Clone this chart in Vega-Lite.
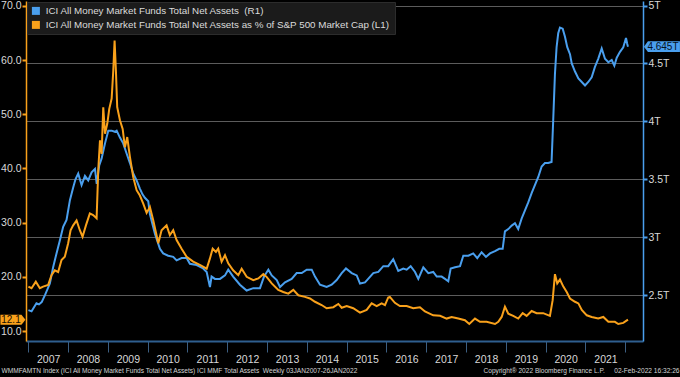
{
  "$schema": "https://vega.github.io/schema/vega-lite/v6.json",
  "autosize": {"type": "none"},
  "width": 617,
  "height": 340,
  "padding": {"left": 26, "top": 1, "right": 37, "bottom": 36},
  "background": "#000000",
  "config": {
    "view": {"stroke": null},
    "font": "Liberation Sans",
    "legend": {
      "orient": "top-left", "offset": 1, "padding": 4,
      "fillColor": "#1b1b1b", "strokeColor": "#2c2c2c",
      "labelColor": "#dcdcdc", "labelFontSize": 9.8, "labelFont": "Liberation Sans",
      "symbolType": "square", "symbolSize": 64, "symbolStrokeWidth": 0,
      "rowPadding": 3, "labelLimit": 600, "title": null, "labelOffset": 5
    }
  },
  "datasets": {
    "blue": [
      {"date":"2007-01-03","v":2.37},{"date":"2007-02-01","v":2.36},{"date":"2007-03-18","v":2.43},{"date":"2007-04-10","v":2.42},{"date":"2007-05-05","v":2.44},{"date":"2007-06-04","v":2.50},{"date":"2007-07-19","v":2.60},{"date":"2007-08-18","v":2.74},{"date":"2007-09-18","v":2.86},{"date":"2007-10-18","v":2.97},{"date":"2007-11-18","v":3.09},{"date":"2007-12-19","v":3.15},
      {"date":"2008-01-19","v":3.32},{"date":"2008-02-18","v":3.43},{"date":"2008-03-10","v":3.50},{"date":"2008-04-04","v":3.55},{"date":"2008-05-05","v":3.45},{"date":"2008-06-05","v":3.53},{"date":"2008-07-05","v":3.49},{"date":"2008-08-05","v":3.56},{"date":"2008-09-05","v":3.59},{"date":"2008-09-21","v":3.46},{"date":"2008-10-14","v":3.62},{"date":"2008-11-05","v":3.68},{"date":"2008-12-06","v":3.81},
      {"date":"2009-01-05","v":3.92},{"date":"2009-02-05","v":3.92},{"date":"2009-03-07","v":3.91},{"date":"2009-03-23","v":3.92},{"date":"2009-04-22","v":3.86},{"date":"2009-05-22","v":3.81},{"date":"2009-06-23","v":3.72},{"date":"2009-07-23","v":3.64},{"date":"2009-08-22","v":3.55},{"date":"2009-09-22","v":3.49},{"date":"2009-10-22","v":3.42},{"date":"2009-11-15","v":3.37},{"date":"2009-12-07","v":3.34},
      {"date":"2010-01-07","v":3.31},{"date":"2010-01-22","v":3.20},{"date":"2010-03-09","v":3.03},{"date":"2010-04-24","v":2.90},{"date":"2010-05-24","v":2.86},{"date":"2010-07-09","v":2.84},{"date":"2010-08-24","v":2.83},{"date":"2010-09-24","v":2.80},{"date":"2010-11-09","v":2.82},{"date":"2010-12-25","v":2.82},
      {"date":"2011-01-24","v":2.77},{"date":"2011-03-27","v":2.76},{"date":"2011-05-26","v":2.73},{"date":"2011-06-27","v":2.70},{"date":"2011-07-27","v":2.57},{"date":"2011-08-11","v":2.66},{"date":"2011-09-11","v":2.64},{"date":"2011-10-27","v":2.64},{"date":"2011-12-12","v":2.67},
      {"date":"2012-01-11","v":2.72},{"date":"2012-02-25","v":2.66},{"date":"2012-04-27","v":2.59},{"date":"2012-06-28","v":2.54},{"date":"2012-08-28","v":2.56},{"date":"2012-10-28","v":2.56},{"date":"2012-12-04","v":2.66},
      {"date":"2013-01-13","v":2.72},{"date":"2013-02-13","v":2.67},{"date":"2013-03-31","v":2.63},{"date":"2013-04-30","v":2.57},{"date":"2013-06-15","v":2.61},{"date":"2013-08-15","v":2.64},{"date":"2013-09-30","v":2.69},{"date":"2013-11-15","v":2.69},{"date":"2013-12-31","v":2.72},
      {"date":"2014-02-15","v":2.72},{"date":"2014-03-17","v":2.66},{"date":"2014-05-02","v":2.59},{"date":"2014-07-02","v":2.57},{"date":"2014-08-17","v":2.59},{"date":"2014-10-02","v":2.63},{"date":"2014-11-17","v":2.69},{"date":"2014-12-26","v":2.73},
      {"date":"2015-02-17","v":2.69},{"date":"2015-04-04","v":2.67},{"date":"2015-05-04","v":2.60},{"date":"2015-06-19","v":2.61},{"date":"2015-07-18","v":2.64},{"date":"2015-09-03","v":2.69},{"date":"2015-10-19","v":2.70},{"date":"2015-12-04","v":2.75},
      {"date":"2016-01-18","v":2.75},{"date":"2016-03-04","v":2.81},{"date":"2016-04-19","v":2.71},{"date":"2016-06-04","v":2.73},{"date":"2016-07-05","v":2.72},{"date":"2016-08-11","v":2.75},{"date":"2016-09-20","v":2.70},{"date":"2016-10-20","v":2.64},{"date":"2016-12-05","v":2.74},
      {"date":"2017-01-20","v":2.69},{"date":"2017-03-06","v":2.70},{"date":"2017-04-07","v":2.66},{"date":"2017-05-22","v":2.66},{"date":"2017-06-22","v":2.64},{"date":"2017-07-22","v":2.62},{"date":"2017-08-13","v":2.73},{"date":"2017-09-22","v":2.74},{"date":"2017-11-07","v":2.75},{"date":"2017-12-07","v":2.84},
      {"date":"2018-01-22","v":2.84},{"date":"2018-03-08","v":2.86},{"date":"2018-04-14","v":2.82},{"date":"2018-05-24","v":2.87},{"date":"2018-07-03","v":2.83},{"date":"2018-08-09","v":2.86},{"date":"2018-09-24","v":2.88},{"date":"2018-11-02","v":2.90},{"date":"2018-12-03","v":2.90},{"date":"2018-12-24","v":3.05},
      {"date":"2019-01-24","v":3.07},{"date":"2019-02-24","v":3.10},{"date":"2019-03-26","v":3.12},{"date":"2019-04-25","v":3.07},{"date":"2019-05-26","v":3.16},{"date":"2019-06-25","v":3.23},{"date":"2019-07-26","v":3.30},{"date":"2019-08-26","v":3.38},{"date":"2019-09-25","v":3.45},{"date":"2019-10-26","v":3.52},{"date":"2019-11-26","v":3.61},{"date":"2019-12-26","v":3.64},
      {"date":"2020-01-25","v":3.64},{"date":"2020-02-25","v":3.65},{"date":"2020-03-11","v":4.01},{"date":"2020-03-27","v":4.41},{"date":"2020-04-11","v":4.64},{"date":"2020-04-26","v":4.76},{"date":"2020-05-12","v":4.81},{"date":"2020-06-06","v":4.80},{"date":"2020-06-27","v":4.73},{"date":"2020-07-18","v":4.64},{"date":"2020-08-12","v":4.58},{"date":"2020-08-28","v":4.50},{"date":"2020-09-27","v":4.43},{"date":"2020-10-28","v":4.37},{"date":"2020-11-28","v":4.34},{"date":"2020-12-28","v":4.31},
      {"date":"2021-01-27","v":4.34},{"date":"2021-02-27","v":4.38},{"date":"2021-03-29","v":4.47},{"date":"2021-04-28","v":4.54},{"date":"2021-05-30","v":4.63},{"date":"2021-06-29","v":4.54},{"date":"2021-07-30","v":4.51},{"date":"2021-08-30","v":4.53},{"date":"2021-09-23","v":4.48},{"date":"2021-10-15","v":4.55},{"date":"2021-11-14","v":4.60},{"date":"2021-12-14","v":4.64},
      {"date":"2022-01-08","v":4.72},{"date":"2022-01-19","v":4.67},{"date":"2022-01-26","v":4.645}
    ],
    "orange": [
      {"date":"2007-01-03","v":18.2},{"date":"2007-02-01","v":17.9},{"date":"2007-03-12","v":19.1},{"date":"2007-04-18","v":17.9},{"date":"2007-05-18","v":18.2},{"date":"2007-07-03","v":18.5},{"date":"2007-08-03","v":20.3},{"date":"2007-09-02","v":21.2},{"date":"2007-10-03","v":20.9},{"date":"2007-11-03","v":23.1},{"date":"2007-12-03","v":23.7},
      {"date":"2008-01-03","v":26.2},{"date":"2008-01-25","v":28.6},{"date":"2008-02-18","v":29.5},{"date":"2008-03-20","v":30.4},{"date":"2008-04-19","v":28.6},{"date":"2008-05-14","v":27.4},{"date":"2008-06-14","v":29.5},{"date":"2008-07-20","v":31.7},{"date":"2008-08-19","v":31.4},{"date":"2008-09-20","v":30.8},{"date":"2008-10-05","v":39.7},{"date":"2008-10-21","v":45.2},{"date":"2008-11-05","v":42.7},{"date":"2008-11-20","v":51.3},{"date":"2008-12-06","v":46.4},{"date":"2008-12-27","v":48.3},
      {"date":"2009-01-14","v":51.0},{"date":"2009-02-05","v":52.9},{"date":"2009-02-20","v":58.1},{"date":"2009-03-04","v":63.6},{"date":"2009-03-16","v":58.1},{"date":"2009-03-28","v":51.3},{"date":"2009-04-22","v":48.9},{"date":"2009-05-17","v":47.3},{"date":"2009-06-07","v":43.9},{"date":"2009-06-28","v":45.8},{"date":"2009-07-23","v":42.1},{"date":"2009-08-22","v":38.4},{"date":"2009-09-22","v":36.0},{"date":"2009-10-22","v":35.0},{"date":"2009-11-22","v":33.5},{"date":"2009-12-23","v":31.8},
      {"date":"2010-01-22","v":32.9},{"date":"2010-02-22","v":30.4},{"date":"2010-04-09","v":26.2},{"date":"2010-05-09","v":28.6},{"date":"2010-06-24","v":29.5},{"date":"2010-07-24","v":27.7},{"date":"2010-08-24","v":28.6},{"date":"2010-09-24","v":26.8},{"date":"2010-11-09","v":25.2},{"date":"2010-12-25","v":23.7},
      {"date":"2011-02-23","v":22.8},{"date":"2011-04-25","v":22.2},{"date":"2011-06-27","v":21.5},{"date":"2011-07-27","v":23.4},{"date":"2011-08-21","v":25.2},{"date":"2011-09-20","v":24.6},{"date":"2011-10-11","v":25.2},{"date":"2011-11-11","v":22.8},{"date":"2011-12-12","v":24.0},
      {"date":"2012-01-11","v":22.5},{"date":"2012-02-25","v":21.2},{"date":"2012-04-12","v":20.3},{"date":"2012-05-13","v":21.5},{"date":"2012-06-28","v":20.0},{"date":"2012-08-28","v":19.4},{"date":"2012-10-13","v":19.7},{"date":"2012-11-28","v":20.5},{"date":"2012-12-28","v":20.0},
      {"date":"2013-02-13","v":18.8},{"date":"2013-04-14","v":17.6},{"date":"2013-05-30","v":17.2},{"date":"2013-07-15","v":16.9},{"date":"2013-08-30","v":17.6},{"date":"2013-10-15","v":16.6},{"date":"2013-12-15","v":16.3},
      {"date":"2014-01-30","v":16.0},{"date":"2014-03-17","v":15.4},{"date":"2014-05-17","v":14.8},{"date":"2014-07-02","v":14.2},{"date":"2014-09-01","v":14.4},{"date":"2014-10-17","v":15.0},{"date":"2014-11-17","v":14.3},
      {"date":"2015-01-02","v":14.6},{"date":"2015-03-03","v":14.2},{"date":"2015-05-04","v":13.4},{"date":"2015-07-04","v":13.9},{"date":"2015-08-19","v":15.1},{"date":"2015-10-04","v":14.6},{"date":"2015-11-19","v":15.1},{"date":"2015-12-19","v":14.8},
      {"date":"2016-01-18","v":16.2},{"date":"2016-02-02","v":16.3},{"date":"2016-03-19","v":15.2},{"date":"2016-05-04","v":14.6},{"date":"2016-07-05","v":14.6},{"date":"2016-09-04","v":14.2},{"date":"2016-11-04","v":14.4},{"date":"2016-12-20","v":13.6},
      {"date":"2017-03-06","v":12.9},{"date":"2017-05-08","v":12.8},{"date":"2017-07-07","v":12.3},{"date":"2017-08-22","v":12.6},{"date":"2017-10-22","v":12.3},{"date":"2017-12-22","v":12.0},
      {"date":"2018-01-31","v":11.3},{"date":"2018-03-24","v":12.3},{"date":"2018-05-09","v":11.7},{"date":"2018-07-09","v":11.7},{"date":"2018-09-24","v":11.3},{"date":"2018-10-24","v":11.7},{"date":"2018-11-24","v":12.6},{"date":"2018-12-24","v":14.5},
      {"date":"2019-01-24","v":13.2},{"date":"2019-03-10","v":12.8},{"date":"2019-04-25","v":12.3},{"date":"2019-06-05","v":13.3},{"date":"2019-07-11","v":12.8},{"date":"2019-08-26","v":13.7},{"date":"2019-10-11","v":13.3},{"date":"2019-12-10","v":13.3},
      {"date":"2020-02-10","v":12.8},{"date":"2020-03-06","v":15.7},{"date":"2020-03-27","v":20.5},{"date":"2020-04-17","v":18.8},{"date":"2020-05-12","v":19.5},{"date":"2020-06-12","v":18.2},{"date":"2020-07-13","v":17.2},{"date":"2020-08-12","v":16.0},{"date":"2020-09-27","v":15.4},{"date":"2020-10-28","v":15.1},{"date":"2020-11-28","v":13.9},
      {"date":"2021-01-13","v":12.9},{"date":"2021-02-27","v":12.6},{"date":"2021-04-28","v":12.3},{"date":"2021-06-14","v":12.6},{"date":"2021-07-30","v":11.7},{"date":"2021-09-28","v":11.7},{"date":"2021-10-29","v":11.3},{"date":"2021-12-14","v":11.5},
      {"date":"2022-01-26","v":12.1}
    ],
    "blueLast": [{"date":"2022-01-26","v":4.645,"label":"4.645T"}],
    "orangeLast": [{"date":"2022-01-26","v":12.1,"label":"12.1"}]
  },
  "layer": [
    {
      "layer": [
        {
          "data": {"name": "blue"},
          "mark": {"type": "line", "strokeWidth": 2, "clip": true},
          "encoding": {
            "x": {
              "field": "date", "type": "temporal",
              "scale": {"domain": [{"year": 2006, "month": 12, "date": 12}, {"year": 2022, "month": 6, "date": 13}], "nice": false},
              "axis": {
                "orient": "bottom",
                "tickCount": {"interval": "year", "step": 1},
                "labelExpr": "year(datum.value) >= 2022 ? '' : timeFormat(datum.value, '%Y')",
                "labelOffset": 20, "labelAlign": "center", "labelFlush": false, "labelOverlap": false,
                "labelColor": "#d8d8d8", "labelFontSize": 10.5, "labelPadding": 2,
                "tickSize": 11, "tickColor": "#3d5f82", "tickWidth": 1,
                "domainColor": "#2f5f8f", "domainWidth": 2, "grid": false,
                "title": "WMMFAMTN Index (ICI All Money Market Funds Total Net Assets) ICI MMF Total Assets \u00a0Weekly 03JAN2007-26JAN2022",
                "titleX": -25, "titleY": 31, "titleAlign": "left", "titleBaseline": "alphabetic",
                "titleFontSize": 6.6, "titleFont": "Liberation Sans", "titleFontWeight": "normal", "titleColor": "#d4d4d4"
              }
            },
            "y": {
              "field": "v", "type": "quantitative",
              "scale": {"domain": [2.104, 5.039], "nice": false, "zero": false},
              "axis": {
                "orient": "right",
                "values": [2.5, 3, 3.5, 4, 4.5, 5],
                "labelExpr": "datum.value + 'T'",
                "labelOverlap": false, "labelFlush": false,
                "tickSize": 4,
                "tickColor": "#4a9fee", "tickWidth": 2,
                "domainColor": "#4a9fee", "domainWidth": 1.5,
                "labelColor": "#d8d8d8", "labelFontSize": 10.5, "labelPadding": 1,
                "grid": true, "gridColor": "#5c5c5c", "gridWidth": 1,
                "title": "Copyright\u00ae 2022 Bloomberg Finance L.P.",
                "titleAngle": 0, "titleX": -160, "titleY": 371, "titleAlign": "left", "titleBaseline": "alphabetic",
                "titleFontSize": 6.6, "titleFont": "Liberation Sans", "titleFontWeight": "normal", "titleColor": "#d4d4d4"
              }
            },
            "color": {
              "datum": "ICI All Money Market Funds Total Net Assets\u00a0 (R1)",
              "scale": {
                "domain": ["ICI All Money Market Funds Total Net Assets\u00a0 (R1)", "ICI All Money Market Funds Total Net Assets as % of S&P 500 Market Cap (L1)"],
                "range": ["#4a9fee", "#f9a11b"]
              },
              "legend": {
                "encode": {"symbols": {"update": {"fill": {"scale": "color", "field": "value"}, "stroke": {"value": "transparent"}, "opacity": {"value": 1}}}}
              }
            }
          }
        },
        {
          "data": {"name": "blueLast"},
          "mark": {"type": "point", "filled": true, "opacity": 1, "color": "#4a9fee", "size": 1296, "shape": "M-1,0L-0.78,-0.3L1,-0.3L1,0.3L-0.78,0.3Z", "xOffset": 34},
          "encoding": {
            "x": {"field": "date", "type": "temporal"},
            "y": {"field": "v", "type": "quantitative"}
          }
        },
        {
          "data": {"name": "blueLast"},
          "mark": {"type": "text", "dx": 35, "fontSize": 10, "color": "#06121f", "align": "center", "baseline": "middle"},
          "encoding": {
            "x": {"field": "date", "type": "temporal"},
            "y": {"field": "v", "type": "quantitative"},
            "text": {"field": "label"}
          }
        }
      ]
    },
    {
      "layer": [
        {
          "data": {"name": "orange"},
          "mark": {"type": "line", "strokeWidth": 2, "clip": true},
          "encoding": {
            "x": {"field": "date", "type": "temporal"},
            "y": {
              "field": "v", "type": "quantitative",
              "scale": {"domain": [8.16, 70.91], "nice": false, "zero": false},
              "axis": {
                "orient": "left",
                "values": [10, 15, 20, 25, 30, 35, 40, 45, 50, 55, 60, 65, 70],
                "labelExpr": "datum.value % 10 == 0 ? format(datum.value, '.1f') : ''",
                "labelOverlap": false, "labelFlush": false,
                "tickSize": 4,
                "tickColor": "#f9a11b", "tickWidth": 2,
                "domainColor": "#f9a11b", "domainWidth": 1.5,
                "labelColor": "#d8d8d8", "labelFontSize": 10.5, "labelPadding": 1,
                "grid": false,
                "title": "02-Feb-2022 16:32:26",
                "titleAngle": 0, "titleX": 653, "titleY": 371, "titleAlign": "right", "titleBaseline": "alphabetic",
                "titleFontSize": 6.6, "titleFont": "Liberation Sans", "titleFontWeight": "normal", "titleColor": "#d4d4d4"
              }
            },
            "color": {
              "datum": "ICI All Money Market Funds Total Net Assets as % of S&P 500 Market Cap (L1)",
              "scale": {
                "domain": ["ICI All Money Market Funds Total Net Assets\u00a0 (R1)", "ICI All Money Market Funds Total Net Assets as % of S&P 500 Market Cap (L1)"],
                "range": ["#4a9fee", "#f9a11b"]
              }
            }
          }
        },
        {
          "data": {"name": "orangeLast"},
          "mark": {"type": "point", "filled": true, "opacity": 1, "color": "#f9a11b", "size": 625, "shape": "M1,0L0.68,-0.4L-1,-0.4L-1,0.4L0.68,0.4Z", "xOffset": -615},
          "encoding": {
            "x": {"field": "date", "type": "temporal"},
            "y": {"field": "v", "type": "quantitative"}
          }
        },
        {
          "data": {"name": "orangeLast"},
          "mark": {"type": "text", "dx": -617, "fontSize": 10, "color": "#1a1000", "align": "center", "baseline": "middle"},
          "encoding": {
            "x": {"field": "date", "type": "temporal"},
            "y": {"field": "v", "type": "quantitative"},
            "text": {"field": "label"}
          }
        }
      ]
    }
  ],
  "resolve": {"scale": {"y": "independent"}, "axis": {"y": "independent"}}
}
